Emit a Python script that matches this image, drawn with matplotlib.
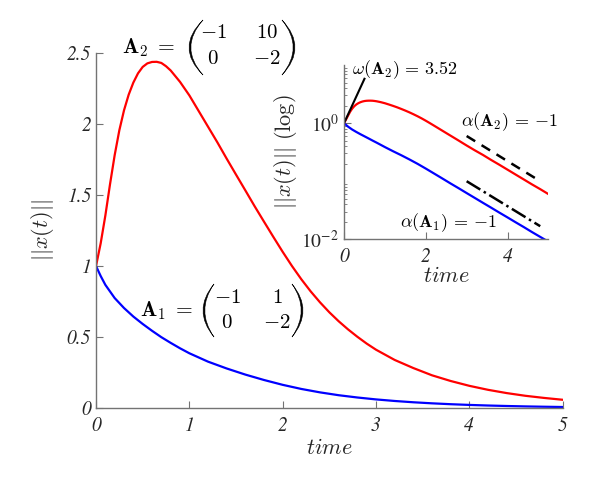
import matplotlib
matplotlib.use("Agg")
import matplotlib.pyplot as plt
from matplotlib.path import Path
from matplotlib.patches import PathPatch

plt.rcParams['mathtext.fontset'] = 'cm'

# values
t_a2 = [0.0, 0.05, 0.1, 0.15, 0.2, 0.25, 0.3, 0.35, 0.4, 0.45, 0.5, 0.55, 0.6, 0.65, 0.7,
        0.75, 0.8, 0.9, 1.0, 1.1, 1.2, 1.3, 1.4, 1.5, 1.6, 1.7, 1.8, 1.9, 2.0, 2.1, 2.2,
        2.3, 2.4, 2.5, 2.6, 2.7, 2.8, 2.9, 3.0, 3.2, 3.4, 3.6, 3.8, 4.0, 4.2, 4.4, 4.6,
        4.8, 5.0]
x_a2 = [1.0, 1.16, 1.355, 1.575, 1.78, 1.955, 2.095, 2.205, 2.29, 2.355, 2.40, 2.425,
        2.435, 2.436, 2.428, 2.405, 2.375, 2.295, 2.20, 2.09, 1.98, 1.87, 1.755, 1.643,
        1.532, 1.42, 1.312, 1.205, 1.10, 1.0, 0.907, 0.822, 0.745, 0.675, 0.612, 0.555,
        0.503, 0.455, 0.412, 0.34, 0.283, 0.232, 0.192, 0.158, 0.13, 0.107, 0.088,
        0.073, 0.060]

t_a1 = [0.0, 0.05, 0.1, 0.2, 0.3, 0.4, 0.5, 0.6, 0.7, 0.8, 0.9, 1.0, 1.2, 1.4, 1.6, 1.8,
        2.0, 2.2, 2.4, 2.6, 2.8, 3.0, 3.2, 3.4, 3.6, 3.8, 4.0, 4.2, 4.4, 4.6, 4.8, 5.0]
x_a1 = [1.0, 0.93, 0.868, 0.775, 0.705, 0.645, 0.593, 0.545, 0.50, 0.46, 0.422, 0.387,
        0.328, 0.280, 0.237, 0.199, 0.165, 0.136, 0.112, 0.092, 0.076, 0.0625, 0.0515,
        0.0424, 0.035, 0.0288, 0.0238, 0.0196, 0.0162, 0.0133, 0.011, 0.0091]

omega_t = [0.0, 0.5]
omega_x = [1.0, 5.8]
alpha2_t = [3.0, 4.8]
alpha2_x = [0.60, 0.10]
alpha1_t = [3.0, 4.8]
alpha1_x = [0.10, 0.0168]

main_xticks = [0, 1, 2, 3, 4, 5]
main_yticks = [0, 0.5, 1, 1.5, 2, 2.5]
main_yticklabels = ['0', '0.5', '1', '1.5', '2', '2.5']
inset_xticks = [0, 2, 4]
inset_yticks = [1e-2, 1e0]
inset_yticklabels = [r'$\mathit{10^{-2}}$', r'$\mathit{10^{0}}$']

A1_entries = ['-1', '1', '0', '-2']
A2_entries = ['-1', '10', '0', '-2']

W, H = 610, 484
axis_gray = '0.45'
text_gray = '0.15'
tick_font = dict(family='STIXGeneral', style='italic', size=14, color=text_gray)


def fx(x, y):
    # pixel position (from top-left) -> figure fraction
    return x / W, 1 - y / H


def style_axes(ax):
    for s in ['top', 'right']:
        ax.spines[s].set_visible(False)
    for s in ['left', 'bottom']:
        ax.spines[s].set_color(axis_gray)
        ax.spines[s].set_linewidth(1.0)
    ax.tick_params(which='both', direction='in', color=axis_gray)
    ax.tick_params(which='major', length=5)
    ax.tick_params(which='minor', length=2.5)


def paren(fig, xa, xb, ytop, ybot, th):
    # crescent-shaped bracket; xa = bulge, xb = ends
    ym = (ytop + ybot) / 2
    c_out = 2 * xa - xb
    c_in = 2 * (xa + th) - xb
    pts = [(xb, ytop), (c_out, ym), (xb, ybot), (c_in, ym), (xb, ytop), (xb, ytop)]
    codes = [Path.MOVETO, Path.CURVE3, Path.CURVE3, Path.CURVE3, Path.CURVE3, Path.CLOSEPOLY]
    p = Path([fx(*q) for q in pts], codes)
    fig.add_artist(PathPatch(p, transform=fig.transFigure, fc='k', ec='k', lw=0.4))


def matrix(fig, name, entries, x_name, cols, rows, pl, pr, ytop, ybot):
    yc = (ytop + ybot) / 2
    fig.text(*fx(x_name, yc), name, fontsize=15.5, ha='left', va='center')
    k = 0
    for r in rows:
        for c in cols:
            fig.text(*fx(c, r), '$' + entries[k] + '$', fontsize=15, ha='center', va='center')
            k += 1
    paren(fig, pl[0], pl[1], ytop, ybot, 1.8)
    paren(fig, pr[0], pr[1], ytop, ybot, -1.8)


fig = plt.figure(figsize=(6.1, 4.84), dpi=100)

# main axes
ax = fig.add_axes([0.1574, 0.1564, 0.765, 0.7347])
ax.plot(t_a1, x_a1, color='b', lw=1.6)
ax.plot(t_a2, x_a2, color='r', lw=1.6)
ax.set_xlim(0, 5)
ax.set_ylim(0, 2.5)
style_axes(ax)
ax.set_xticks(main_xticks)
ax.set_xticklabels([str(v) for v in main_xticks], fontdict=tick_font)
ax.set_yticks(main_yticks)
ax.set_yticklabels(main_yticklabels, fontdict=tick_font)
ax.tick_params(axis='x', pad=6)
ax.set_xlabel(r'$time$', fontsize=16, color=text_gray, labelpad=2)
ax.set_ylabel(r'$||x(t)||$', fontsize=16, color=text_gray, labelpad=8)

matrix(fig, r'$\mathbf{A}_2\;=$', A2_entries, 122, [213, 267], [32, 58],
       (189, 203), (295, 282), 20, 75)
matrix(fig, r'$\mathbf{A}_1\;=$', A1_entries, 140, [227, 277], [297, 322],
       (203, 214), (303, 292), 284, 337)

# inset (log scale)
ins = fig.add_axes([0.564, 0.5056, 0.335, 0.360])
ins.semilogy(t_a1, x_a1, color='b', lw=1.6)
ins.semilogy(t_a2, x_a2, color='r', lw=1.6)
ins.plot(omega_t, omega_x, color='k', lw=1.5)
ins.plot(alpha2_t, alpha2_x, color='k', lw=1.8, ls='--', dashes=(4, 3))
ins.plot(alpha1_t, alpha1_x, color='k', lw=1.8, ls='-.')
ins.set_xlim(0, 5)
ins.set_ylim(1e-2, 1e1)
style_axes(ins)
ins.set_xticks(inset_xticks)
ins.set_xticklabels([str(v) for v in inset_xticks], fontdict=tick_font)
ins.set_yticks(inset_yticks)
ins.set_yticklabels(inset_yticklabels, fontsize=14, color=text_gray, math_fontfamily='stix')
ins.tick_params(axis='x', pad=6)
ins.set_xlabel(r'$time$', fontsize=16, color=text_gray, labelpad=0)
ins.set_ylabel(r'$||x(t)||\ \mathrm{(log)}$', fontsize=16, color=text_gray, labelpad=2)

ins.text(0.19, 8.5, r'$\omega(\mathbf{A}_2)\,=\,3.52$', fontsize=13, va='center', ha='left', clip_on=False)
ins.text(2.86, 1.07, r'$\alpha(\mathbf{A}_2)\,=\,{-1}$', fontsize=13, va='center', ha='left', clip_on=False)
ins.text(1.37, 0.0195, r'$\alpha(\mathbf{A}_1)\,=\,{-1}$', fontsize=13, va='center', ha='left')

fig.savefig('out.png', dpi=100)
